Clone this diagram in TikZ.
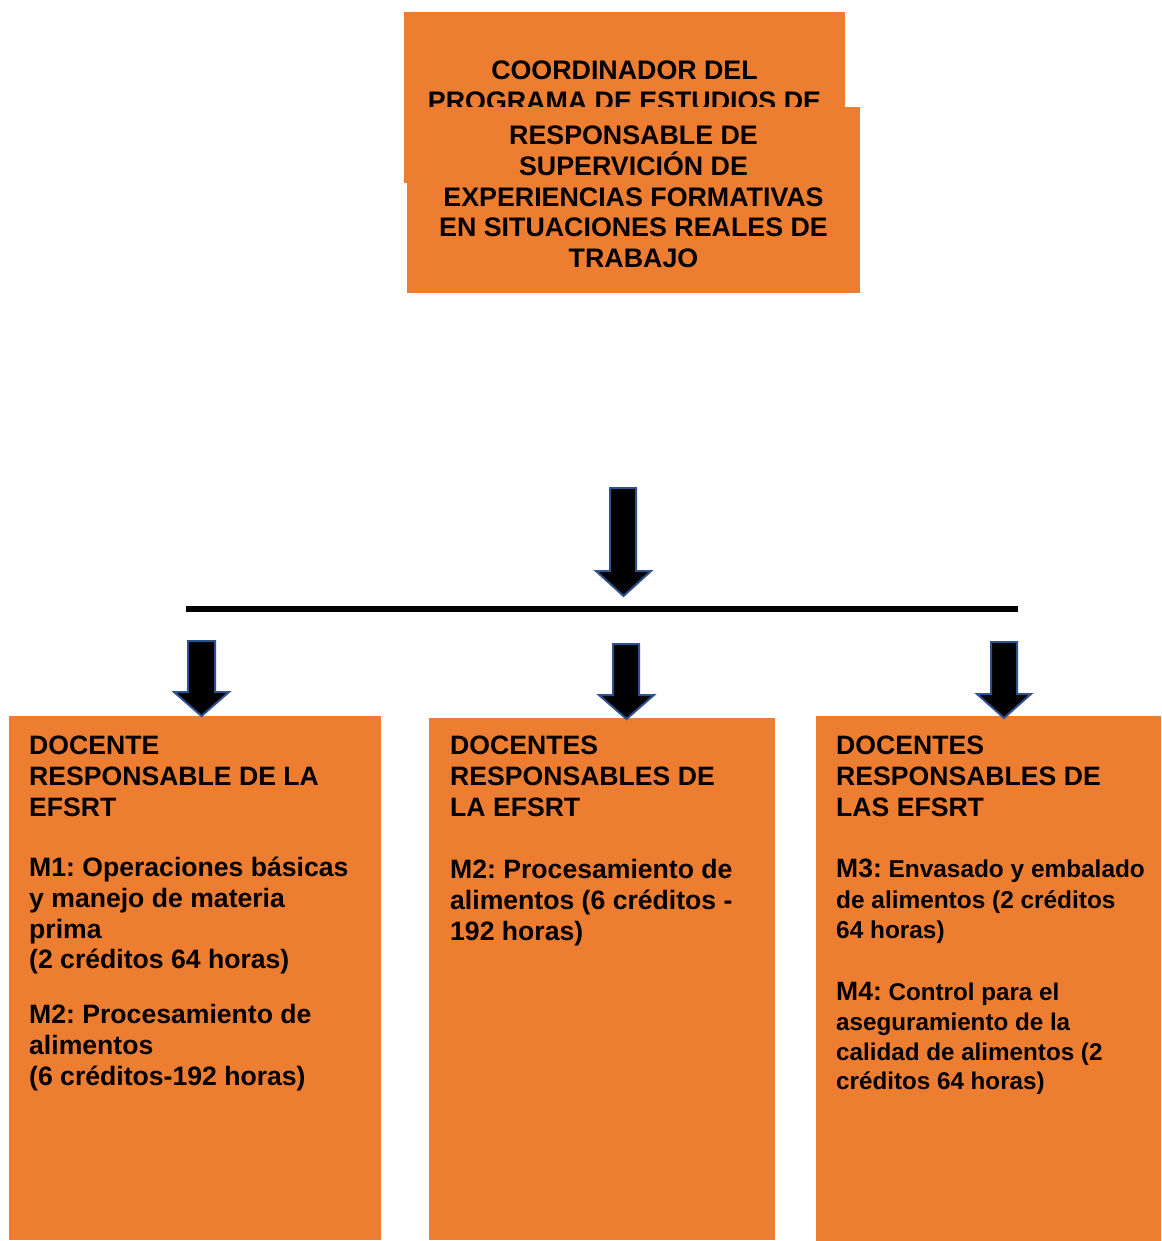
\documentclass[tikz,border=0pt]{standalone}
\usepackage{fontspec}
\setmainfont{Liberation Sans}
\definecolor{org}{HTML}{ED7D31}
\definecolor{arrowblue}{HTML}{2F528F}
\tikzset{
  box/.style={rectangle, fill=org, draw=none, inner sep=0pt, anchor=north west},
  hdtxt/.style={inner sep=0pt, align=center, anchor=north, font=\bfseries\frenchspacing\fontsize{26.8}{30.75}\selectfont},
  bodytxt/.style={inner sep=0pt, align=left, anchor=north west, font=\bfseries\frenchspacing\fontsize{26.6}{30.7}\selectfont},
  smalltxt/.style={inner sep=0pt, align=left, anchor=north west, font=\bfseries\frenchspacing\fontsize{24.4}{30.5}\selectfont},
  smallertxt/.style={inner sep=0pt, align=left, anchor=north west, font=\bfseries\frenchspacing\fontsize{24.2}{29.7}\selectfont},
  blockarr/.style={fill=black, draw=arrowblue, line width=2pt, line join=miter},
  hline/.style={line width=6pt, black}
}
\newcommand\topstrut{\rule{0pt}{21.5pt}}
\newcommand\blockarrowshape[7]{%
  \draw[blockarr] (#1,#3) -- (#2,#3) -- (#2,#4) -- (#6,#4) -- ({(#5+#6)/2},#7) -- (#5,#4) -- (#1,#4) -- cycle;}
\newcommand\bigM[1]{{\fontsize{26.5}{30.3}\selectfont #1}}
\begin{document}
\begin{tikzpicture}[x=1pt,y=-1pt]
\useasboundingbox (0,0) rectangle (1161,1241);
% top boxes
\node[box, minimum width=441pt, minimum height=171pt] (coord) at (404,12) {};
\node[hdtxt] (coordtxt) at (624.5,58) {\topstrut COORDINADOR DEL\\PROGRAMA DE ESTUDIOS DE};
\node[box, minimum width=453pt, minimum height=186pt] (resp) at (407,107) {};
\node[hdtxt] (resptxt) at (633.5,123) {\topstrut RESPONSABLE DE\\SUPERVICIÓN DE\\EXPERIENCIAS FORMATIVAS\\EN SITUACIONES REALES DE\\TRABAJO};
% bottom boxes
\node[box, minimum width=372pt, minimum height=524pt] (boxA) at (9,716) {};
\node[box, minimum width=346pt, minimum height=522pt] (boxB) at (429,718) {};
\node[box, minimum width=345pt, minimum height=525pt] (boxC) at (816,716) {};
% box A text
\node[bodytxt] (aHead) at (29,733) {\topstrut DOCENTE\\RESPONSABLE DE LA\\EFSRT};
\node[bodytxt] (aM1) at (29,855) {\topstrut M1: Operaciones básicas\\y manejo de materia\\prima\\(2 créditos 64 horas)};
\node[bodytxt] (aM2) at (29,1002) {\topstrut M2: Procesamiento de\\alimentos\\(6 créditos-192 horas)};
% box B text
\node[bodytxt] (bHead) at (450,733) {\topstrut DOCENTES\\RESPONSABLES DE\\LA EFSRT};
\node[bodytxt] (bM2) at (450,857) {\topstrut M2: Procesamiento de\\alimentos (6 créditos -\\192 horas)};
% box C text
\node[bodytxt] (cHead) at (836,733) {\topstrut DOCENTES\\RESPONSABLES DE\\LAS EFSRT};
\node[smalltxt] (cM3) at (836,856) {\topstrut\bigM{M3:} Envasado y embalado\\de alimentos (2 créditos\\64 horas)};
\node[smallertxt] (cM4) at (836,979) {\topstrut\bigM{M4:} Control para el\\aseguramiento de la\\calidad de alimentos (2\\créditos 64 horas)};
% horizontal line
\coordinate (hl) at (186,609);
\coordinate (hr) at (1018,609);
\draw[hline] (hl) -- (hr);
% arrows
\blockarrowshape{610}{636}{488}{571}{596}{651}{596}
\blockarrowshape{188}{215}{641}{692}{174}{229}{716}
\blockarrowshape{613}{639}{644}{695}{599}{654}{719}
\blockarrowshape{991}{1017}{642}{694}{977}{1031}{718}
\end{tikzpicture}
\end{document}
